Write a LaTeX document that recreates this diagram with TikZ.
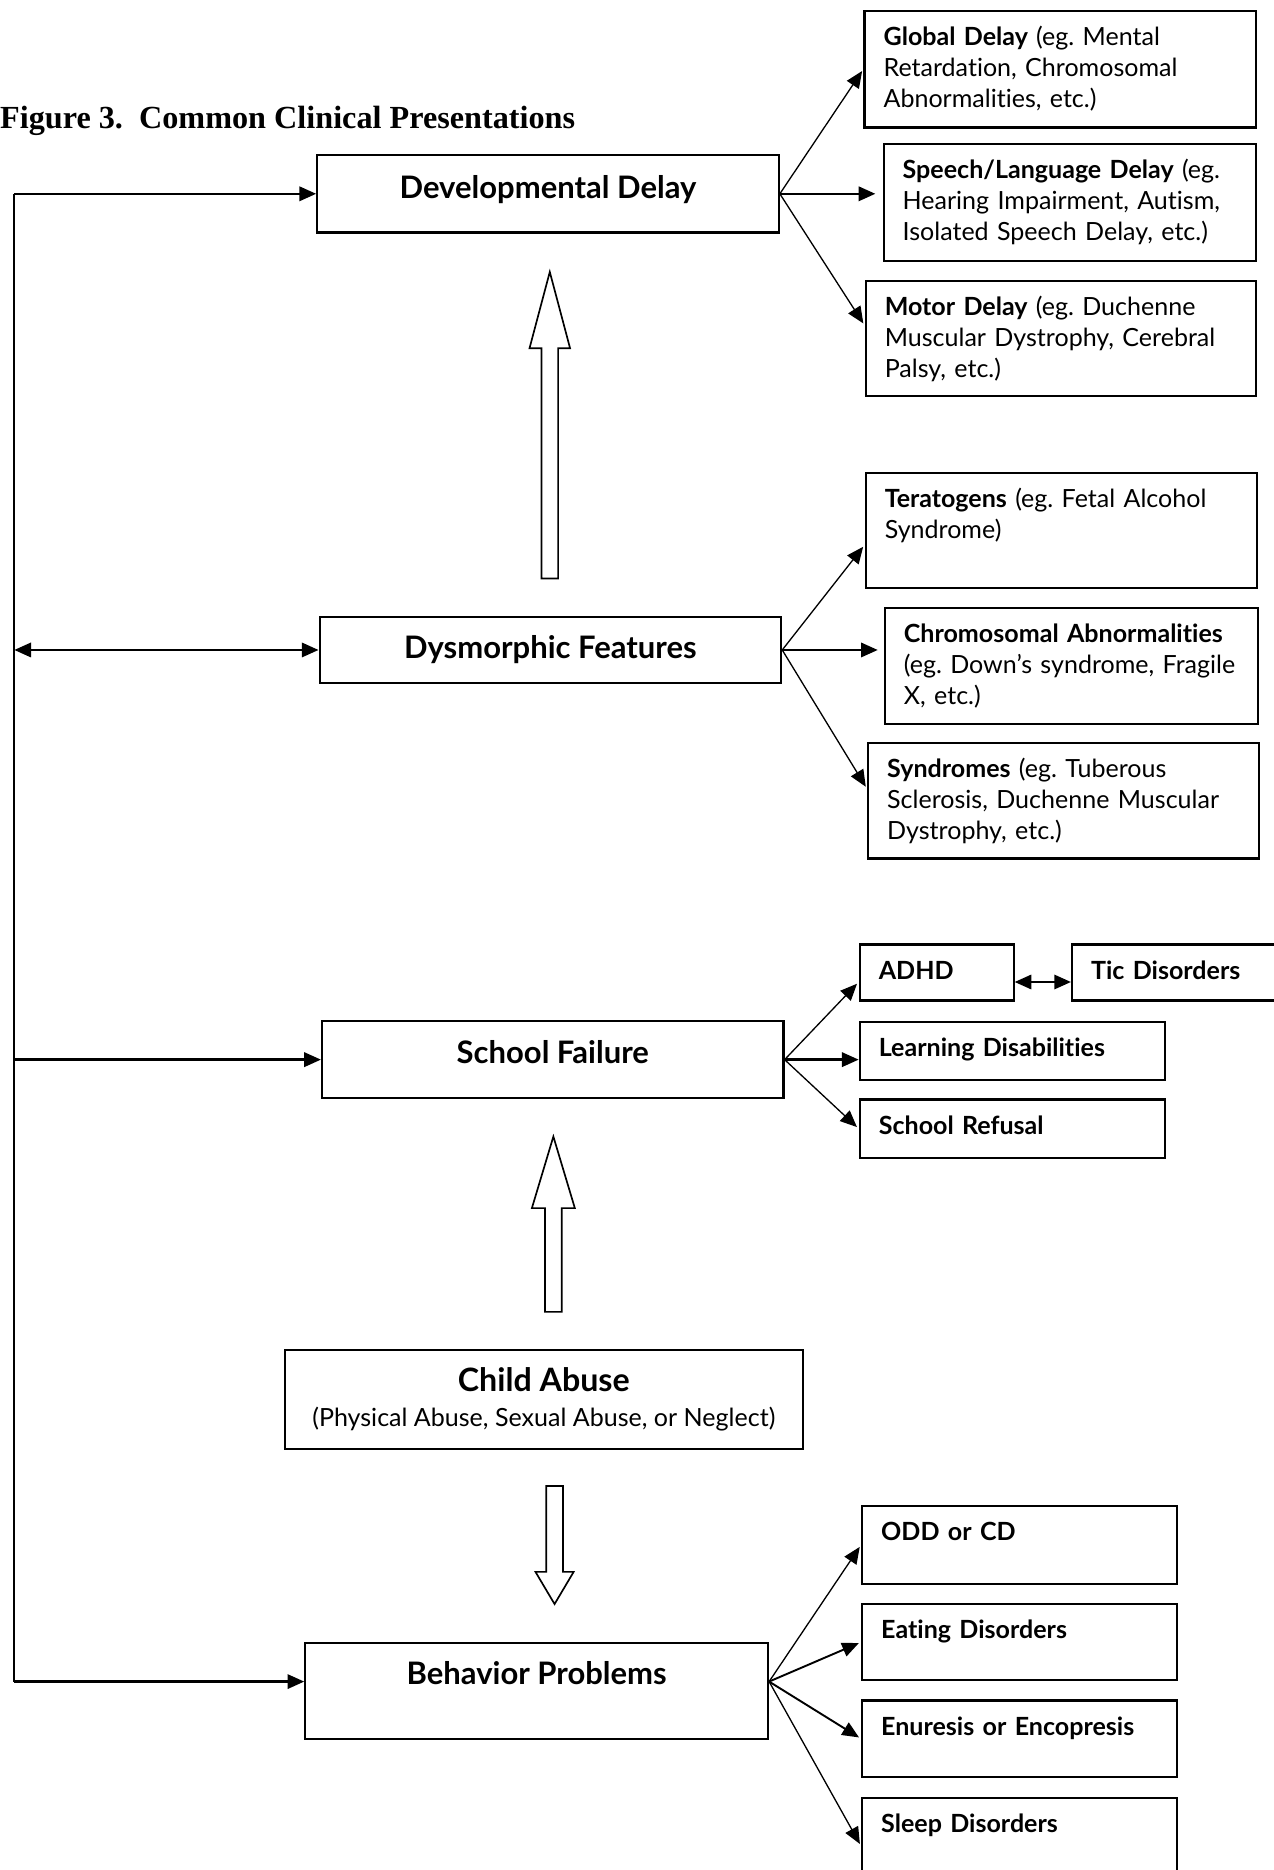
\documentclass[tikz,border=0pt]{standalone}
\usepackage{fontspec}
\setmainfont{Liberation Serif}
\newfontfamily\boxfont[Ligatures=NoCommon]{Lato}
\usetikzlibrary{arrows.meta,positioning,calc}

\begin{document}
\frenchspacing
\begin{tikzpicture}[x=1pt,y=-1pt,>={Triangle[length=14pt,width=12pt]},
  mainbox/.style={draw,line width=1.8pt,minimum width=387pt,inner sep=0pt,text height=19pt,
    font=\boxfont\fontsize{26}{30}\selectfont\bfseries},
  subbox/.style={draw,line width=1.8pt,anchor=north west,align=left,inner xsep=16pt,inner ysep=0pt,
    text height=29pt,text depth=#1,font=\boxfont\fontsize{21}{26}\selectfont},
  link/.style={->,line width=1.1pt,shorten >=2pt},
  hlink/.style={->,line width=2pt},
  hollow/.style={draw,line width=1.4pt,fill=white}]

  \useasboundingbox (0,0) rectangle (1068,1568);

  \node[anchor=west,inner sep=0pt,font=\fontsize{27}{30}\selectfont\bfseries] (title) at (0,101)
    {Figure 3.\ \ Common Clinical Presentations};

  % centre column
  \node[mainbox,minimum height=65pt,text depth=11pt] (dd) at (459.5,162.5) {Developmental Delay};
  \node[mainbox,minimum height=56pt,text depth=4pt]  (df) at (461.5,545) {Dysmorphic Features};
  \node[mainbox,minimum height=65pt,text depth=13pt] (sf) at (463.5,888.5) {School Failure};
  \node[draw,line width=1.8pt,minimum width=434pt,minimum height=83pt,align=center,inner sep=0pt,
    font=\boxfont\fontsize{21}{29}\selectfont] (abuse) at (456,1173.5)
    {{\fontsize{27}{30}\selectfont\bfseries Child Abuse}\\(Physical Abuse, Sexual Abuse, or Neglect)};
  \node[mainbox,minimum width=388pt,minimum height=80pt,text depth=30pt] (bp) at (450,1418) {Behavior Problems};

  % right column
  \node[subbox=69pt,text width=296pt] (global) at (724,8)
    {\textbf{Global Delay} (eg. Mental\\Retardation, Chromosomal\\Abnormalities, etc.)};
  \node[subbox=69pt,text width=280pt] (speech) at (740,120)
    {\textbf{Speech/Language Delay} (eg.\\Hearing Impairment, Autism,\\Isolated Speech Delay, etc.)};
  \node[subbox=67pt,text width=295pt] (motor) at (725,235)
    {\textbf{Motor Delay} (eg. Duchenne\\Muscular Dystrophy, Cerebral\\Palsy, etc.)};

  \node[subbox=67pt,text width=296pt] (terat) at (725,396)
    {\textbf{Teratogens} (eg. Fetal Alcohol\\Syndrome)};
  \node[subbox=68pt,text width=281pt] (chromo) at (741,509)
    {\textbf{Chromosomal Abnormalities}\\(eg. Down’s syndrome, Fragile\\X, etc.)};
  \node[subbox=68pt,text width=296pt] (synd) at (727,622)
    {\textbf{Syndromes} (eg. Tuberous\\Sclerosis, Duchenne Muscular\\Dystrophy, etc.)};

  \node[subbox=18pt,text width=97pt]  (adhd) at (720,791) {\textbf{ADHD}};
  \node[subbox=18pt,text width=158pt] (tic) at (898,791) {\textbf{Tic Disorders}};
  \node[subbox=20pt,text width=224pt] (learn) at (720,856) {\textbf{Learning Disabilities}};
  \node[subbox=20pt,text width=224pt] (refusal) at (720,921) {\textbf{School Refusal}};

  \node[subbox=36pt,text width=232pt] (odd) at (722,1262) {\textbf{ODD or CD}};
  \node[subbox=35pt,text width=232pt] (eating) at (722,1344) {\textbf{Eating Disorders}};
  \node[subbox=35pt,text width=232pt] (enur) at (722,1425) {\textbf{Enuresis or Encopresis}};
  \node[subbox=51pt,text width=232pt] (sleep) at (722,1507) {\textbf{Sleep Disorders}};

  % left bus
  \coordinate (bus) at (12,0);
  \draw[line width=1.6pt] (dd.west -| bus) -- ([yshift=8pt]bp.west -| bus);
  \draw[hlink] (dd.west -| bus) -- (dd.west);
  \draw[hlink,<->] (df.west -| bus) -- (df.west);
  \draw[hlink] (sf.west -| bus) -- (sf.west);
  \draw[hlink] ([yshift=8pt]bp.west -| bus) -- ([yshift=8pt]bp.west);

  % fan-outs
  \draw[link] (dd.east) -- (global.west);
  \draw[hlink] (dd.east) -- ([xshift=-6pt]dd.east -| speech.west);
  \draw[link] (dd.east) -- ([yshift=11pt]motor.west);

  \draw[link] (df.east) -- ([yshift=-12pt]terat.west);
  \draw[hlink] (df.east) -- ([xshift=-5pt]df.east -| chromo.west);
  \draw[link] (df.east) -- ([yshift=10pt]synd.west);

  \draw[link] (sf.east) -- ([yshift=-8pt]adhd.west);
  \draw[hlink] (sf.east) -- (sf.east -| learn.west);
  \draw[link] (sf.east) -- (refusal.west);
  \draw[hlink,<->] ([yshift=-8pt]adhd.east) -- ([yshift=-8pt]tic.west);

  \draw[link] ([yshift=8pt]bp.east) -- (odd.west);
  \draw[link,line width=1.6pt] ([yshift=8pt]bp.east) -- (eating.west);
  \draw[link,line width=1.6pt] ([yshift=8pt]bp.east) -- (enur.west);
  \draw[link] ([yshift=8pt]bp.east) -- (sleep.west);

  % hollow arrows
  \draw[hollow] (454,485) -- (454,292) -- (444,292) -- (461,228) -- (478,292) -- (468,292) -- (468,485) -- cycle;
  \draw[hollow] (457,1100) -- (457,1013) -- (446,1013) -- (464,953) -- (482,1013) -- (471,1013) -- (471,1100) -- cycle;
  \draw[hollow] (458,1246) -- (458,1318) -- (449,1318) -- (465,1345) -- (481,1318) -- (472,1318) -- (472,1246) -- cycle;
\end{tikzpicture}
\end{document}
